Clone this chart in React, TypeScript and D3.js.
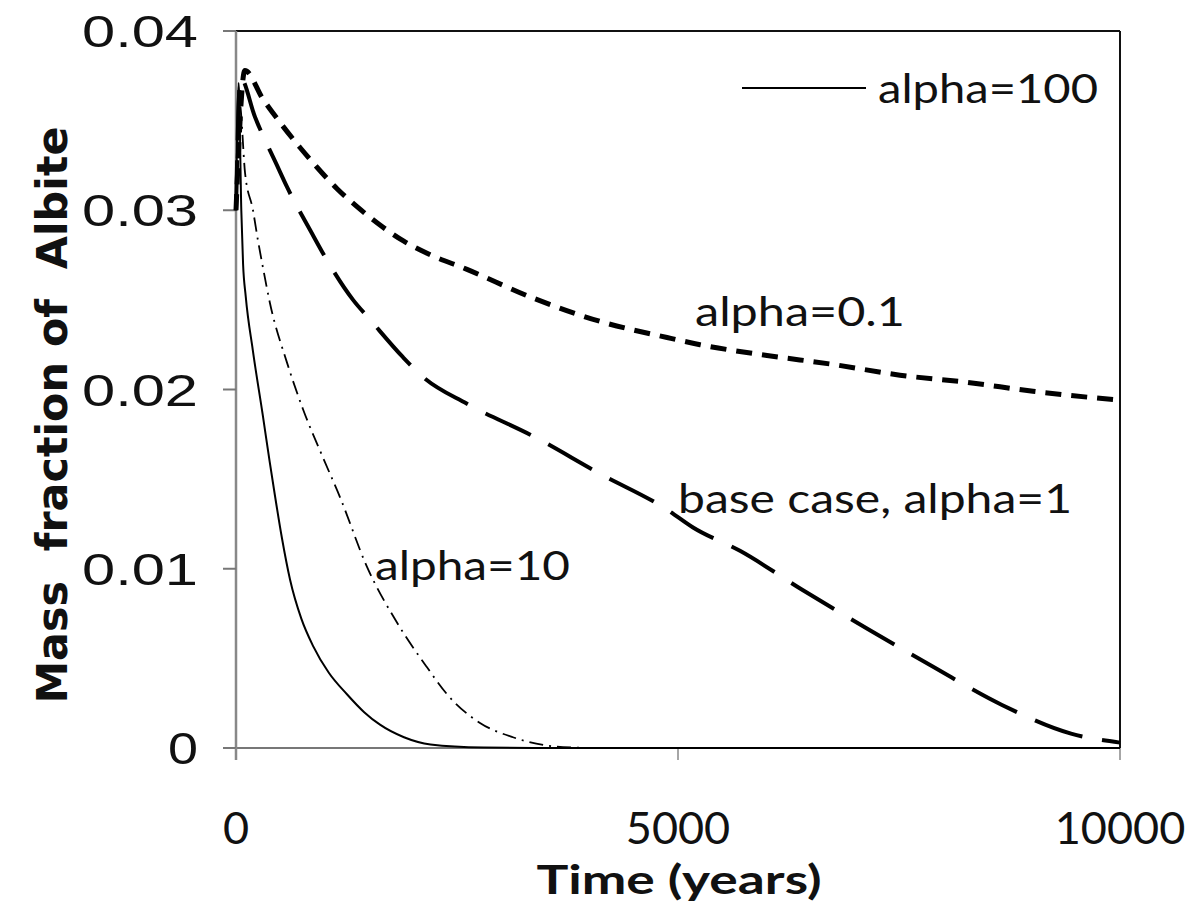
import React from "react";
import * as d3 from "d3";

// ---------- data ----------
const xTicks = [0, 5000, 10000];
const yTicks = [0, 0.01, 0.02, 0.03, 0.04];
const yTickLabels = ["0", "0.01", "0.02", "0.03", "0.04"];

// alpha = 100 (solid)
const timeA100 = [0, 30, 60, 80, 110, 190, 305, 380, 440, 520, 611, 740, 871, 1050, 1255, 1450, 1629, 1900, 2200, 2800, 3500, 10000];
const massA100 = [0.03, 0.0371, 0.03, 0.027, 0.0252, 0.0222, 0.0185, 0.016, 0.0141, 0.0117, 0.0094, 0.0072, 0.0057, 0.0042, 0.003, 0.002, 0.0013, 0.0006, 0.0002, 0.00003, 0, 0];

// alpha = 10 (dash-dot)
const timeA10 = [0, 40, 102, 192, 249, 305, 385, 577, 758, 984, 1176, 1482, 1821, 2161, 2387, 2760, 3133, 3699, 4100];
const massA10 = [0.03, 0.036, 0.0321, 0.03, 0.0283, 0.0268, 0.0248, 0.0215, 0.0189, 0.0162, 0.014, 0.0101, 0.007, 0.0045, 0.003, 0.0014, 0.0006, 0.00005, 0];

// base case, alpha = 1 (long dash)
const timeA1 = [0, 50, 215, 464, 577, 860, 1007, 1324, 1516, 1889, 2115, 2613, 3360, 4118, 4876, 5170, 5701, 6414, 7161, 7896, 8665, 9446, 10000];
const massA1 = [0.03, 0.0374, 0.0352, 0.0325, 0.0313, 0.0287, 0.0274, 0.025, 0.0239, 0.0218, 0.0207, 0.0192, 0.0174, 0.0153, 0.0133, 0.0123, 0.011, 0.0088, 0.0066, 0.0045, 0.0024, 0.0008, 0.0003];

// alpha = 0.1 (short dash)
const timeA01 = [0, 100, 305, 498, 724, 916, 1143, 1369, 1595, 1889, 2161, 2613, 3360, 4118, 4876, 5249, 6007, 6753, 7511, 8269, 9016, 10000];
const massA01 = [0.03, 0.0378, 0.0362, 0.0349, 0.0335, 0.0324, 0.0312, 0.0302, 0.0293, 0.0283, 0.0276, 0.0267, 0.0251, 0.0238, 0.0229, 0.0225, 0.0219, 0.0214, 0.0208, 0.0204, 0.0199, 0.0194];

const seriesNames = ["alpha=100", "alpha=10", "base case, alpha=1", "alpha=0.1"];

// ---------- layout ----------
const W = 1199;
const H = 922;
const left = 236;
const right = 1120;
const top = 31;
const bottom = 748;

const calibri = "Lato, 'Open Sans', sans-serif";

export default function App() {
  const x = d3.scaleLinear().domain([0, 10000]).range([left, right]);
  const y = d3.scaleLinear().domain([0, 0.04]).range([bottom, top]);

  const mk = (ts: number[], vs: number[]) =>
    d3
      .line<number>()
      .x((_, i) => x(ts[i]))
      .y((v) => y(v))
      .curve(d3.curveMonotoneX)(vs) as string;

  const series = [
    { d: mk(timeA100, massA100), w: 2, dash: "none" },
    { d: mk(timeA10, massA10), w: 1.8, dash: "14,6,2,6" },
    { d: mk(timeA1, massA1), w: 4, dash: "50,20" },
    { d: mk(timeA01, massA01), w: 5, dash: "16,10" },
  ];

  return (
    <svg
      width={W}
      height={H}
      style={{ position: "absolute", left: 0, top: 0, background: "#fff" }}
    >
      <rect x={0} y={0} width={W} height={H} fill="#fff" />
      {/* plot border (top, right) */}
      <line x1={left} x2={right} y1={top} y2={top} stroke="#111" strokeWidth={2} />
      <line x1={right} x2={right} y1={top} y2={bottom} stroke="#111" strokeWidth={2} />
      {/* axes */}
      <line x1={left} x2={right} y1={bottom} y2={bottom} stroke="#777" strokeWidth={2} />
      <line x1={left} x2={left} y1={top} y2={bottom + 12} stroke="#888" strokeWidth={2.5} />
      {yTicks.map((t) => (
        <line key={"yt" + t} x1={left - 13} x2={left} y1={y(t)} y2={y(t)} stroke="#777" strokeWidth={2} />
      ))}
      {xTicks.map((t) => (
        <line key={"xt" + t} x1={x(t)} x2={x(t)} y1={bottom} y2={bottom + 12} stroke="#888" strokeWidth={1.5} />
      ))}

      {/* curves */}
      {series.map((s, i) => (
        <path
          key={seriesNames[i]}
          d={s.d}
          fill="none"
          stroke="#000"
          strokeWidth={s.w}
          strokeDasharray={s.dash}
        />
      ))}

      {/* y tick labels */}
      {yTicks.map((t, i) => (
        <text
          key={"yl" + t}
          x={198}
          y={y(t)}
          dy="0.36em"
          textAnchor="end"
          fontFamily="'Liberation Sans', Arial, sans-serif"
          fontSize={45}
          fill="#111"
          textLength={yTickLabels[i].length > 1 ? 116 : 30}
          lengthAdjust="spacingAndGlyphs"
        >
          {yTickLabels[i]}
        </text>
      ))}

      {/* x tick labels */}
      {xTicks.map((t) => (
        <text
          key={"xl" + t}
          x={x(t)}
          y={844}
          textAnchor="middle"
          fontFamily={calibri}
          fontSize={45}
          fill="#111"
        >
          {String(t)}
        </text>
      ))}

      {/* axis titles */}
      <text
        x={679}
        y={894}
        textAnchor="middle"
        fontFamily={calibri}
        fontWeight={700}
        fontSize={40}
        fill="#111"
        textLength={285}
        lengthAdjust="spacingAndGlyphs"
      >
        Time (years)
      </text>
      <text
        transform="translate(67,415) rotate(-90)"
        textAnchor="middle"
        fontFamily="'DejaVu Sans', Verdana, sans-serif"
        fontWeight={700}
        fontSize={43}
        fill="#111"
        style={{ whiteSpace: "pre" }}
        textLength={577}
        lengthAdjust="spacingAndGlyphs"
      >
        {"Mass  fraction of  Albite"}
      </text>

      {/* legend */}
      <line x1={742} x2={866} y1={88} y2={88} stroke="#000" strokeWidth={2} />
      <text x={878} y={103} fontFamily={calibri} fontSize={40} fill="#111" textLength={220} lengthAdjust="spacingAndGlyphs">
        {seriesNames[0]}
      </text>

      {/* curve labels */}
      <text x={375} y={580} fontFamily={calibri} fontSize={40} fill="#111" textLength={195} lengthAdjust="spacingAndGlyphs">
        {seriesNames[1]}
      </text>
      <text x={678} y={513} fontFamily={calibri} fontSize={40} fill="#111" textLength={394} lengthAdjust="spacingAndGlyphs">
        {seriesNames[2]}
      </text>
      <text x={695} y={326} fontFamily={calibri} fontSize={40} fill="#111" textLength={210} lengthAdjust="spacingAndGlyphs">
        {seriesNames[3]}
      </text>
    </svg>
  );
}
